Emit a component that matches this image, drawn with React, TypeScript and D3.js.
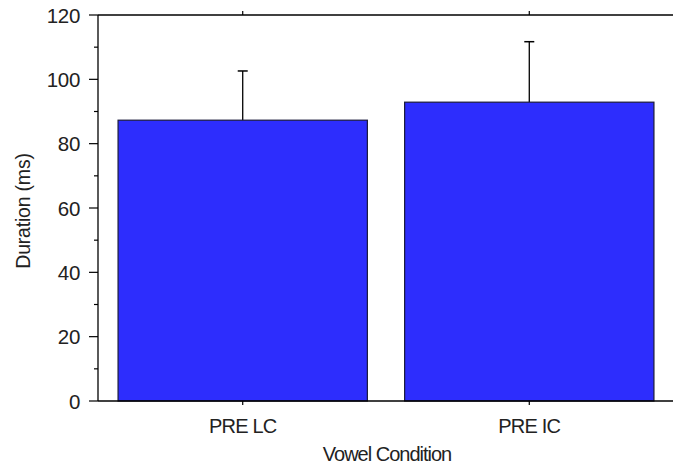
import React from "react";
import * as d3 from "d3";

const categories = ["PRE LC", "PRE IC"];
const means = [87.3, 92.9];
const errors = [15.3, 18.8];
const yTicks = [0, 20, 40, 60, 80, 100, 120];
const yMinorTicks = [10, 30, 50, 70, 90, 110];
const xTitle = "Vowel Condition";
const yTitle = "Duration (ms)";

const W = 673;
const H = 466;
const left = 98;
const right = 673;
const top = 15;
const bottom = 401;
const font = "'Liberation Sans', Arial, sans-serif";

export default function App() {
  const x = d3.scaleBand<string>().domain(categories).range([left, right + 1]).paddingInner(0.13).paddingOuter(0.07);
  const y = d3.scaleLinear().domain([0, 120]).range([bottom, top]);
  const bw = x.bandwidth();
  return (
    <svg width={W} height={H} style={{ position: "absolute", left: 0, top: 0, background: "#fff" }}>
      {categories.map((c, i) => {
        const cx = (x(c) as number) + bw / 2;
        return (
          <g key={c}>
            <line x1={cx} x2={cx} y1={y(means[i])} y2={y(means[i] + errors[i])} stroke="#000" strokeWidth={1.3} />
            <line x1={cx - 5} x2={cx + 5} y1={y(means[i] + errors[i])} y2={y(means[i] + errors[i])} stroke="#000" strokeWidth={1.5} />
            <rect x={x(c)} y={y(means[i])} width={bw} height={y(0) - y(means[i])} fill="#2d2dfd" stroke="#1a1a3a" strokeWidth={1.2} />
          </g>
        );
      })}
      <line x1={left} x2={left} y1={top} y2={bottom} stroke="#000" strokeWidth={1.3} />
      <line x1={left} x2={W} y1={top} y2={top} stroke="#000" strokeWidth={1.3} />
      <line x1={left} x2={W} y1={bottom} y2={bottom} stroke="#000" strokeWidth={1.3} />
      {yTicks.map((t) => (
        <g key={t}>
          <line x1={left - 9} x2={left} y1={y(t)} y2={y(t)} stroke="#000" strokeWidth={1.2} />
          <text x={80} y={y(t)} dy="0.38em" textAnchor="end" fontFamily={font} fontSize={20.5} fill="#222" letterSpacing={-0.3}>
            {t}
          </text>
        </g>
      ))}
      {yMinorTicks.map((t) => (
        <line key={t} x1={left - 4} x2={left} y1={y(t)} y2={y(t)} stroke="#000" strokeWidth={1.2} />
      ))}
      {categories.map((c) => {
        const cx = (x(c) as number) + bw / 2;
        return (
          <g key={c}>
            <line x1={cx} x2={cx} y1={bottom} y2={bottom + 4} stroke="#000" strokeWidth={1.2} />
            <line x1={cx} x2={cx} y1={top - 4} y2={top} stroke="#000" strokeWidth={1.2} />
            <text x={cx} y={433} textAnchor="middle" fontFamily={font} fontSize={20} fill="#222" letterSpacing={-0.8}>
              {c}
            </text>
          </g>
        );
      })}
      <text x={387} y={461} textAnchor="middle" fontFamily={font} fontSize={20} fill="#222" letterSpacing={-1}>
        {xTitle}
      </text>
      <text transform={`translate(30,211) rotate(-90)`} textAnchor="middle" fontFamily={font} fontSize={19.5} fill="#222" letterSpacing={-0.2}>
        {yTitle}
      </text>
    </svg>
  );
}
